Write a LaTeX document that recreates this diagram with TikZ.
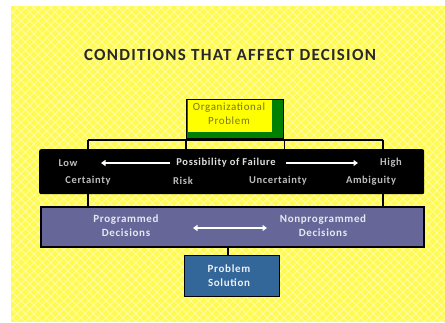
\documentclass[tikz,border=0pt]{standalone}
\usepackage{fontspec}
\setmainfont{Carlito}
\newfontfamily\spaced[LetterSpace=6]{Carlito}
\newfontfamily\titlefont[LetterSpace=7.5]{Carlito}
\usetikzlibrary{patterns.meta,arrows.meta}
\definecolor{bgyellow}{RGB}{255,250,80}
\definecolor{orgyellow}{RGB}{255,255,0}
\definecolor{orggreen}{RGB}{0,128,0}
\definecolor{decpurple}{RGB}{102,102,153}
\definecolor{solblue}{RGB}{51,102,153}
\definecolor{titlegray}{RGB}{40,40,40}
\definecolor{orgtext}{RGB}{120,120,30}
\definecolor{lowgray}{RGB}{190,190,190}
\tikzset{
  boxtext/.style={font=\spaced\fontsize{11}{14}\selectfont\bfseries, align=center},
  failtext/.style={font=\spaced\fontsize{10.5}{12}\selectfont\bfseries, text=lowgray},
  conn/.style={draw=black, line width=1.3pt},
  whitearrow/.style={draw=white, line width=2.2pt, -{Triangle[length=4.5pt,width=6pt]}},
  whitedouble/.style={draw=white, line width=2.2pt, {Triangle[length=4.5pt,width=6pt]}-{Triangle[length=4.5pt,width=6pt]}},
}
\begin{document}
\begin{tikzpicture}[x=1pt,y=-1pt]
\useasboundingbox (0,0) rectangle (445,322);
% background
\fill[bgyellow] (11,6) rectangle (445,322);
\fill[pattern={Lines[angle=45,distance=6pt,line width=1.1pt]}, pattern color=white, opacity=0.4] (11,6) rectangle (445,322);
\fill[pattern={Lines[angle=-45,distance=6pt,line width=1.1pt]}, pattern color=white, opacity=0.4] (11,6) rectangle (445,322);

% title
\node[font=\titlefont\fontsize{17}{19}\selectfont\bfseries, text=titlegray] (title) at (230,55) {CONDITIONS THAT AFFECT DECISION};

% organizational problem box
\node[draw=black, line width=1.3pt, fill=orggreen, minimum width=97pt, minimum height=39pt, inner sep=0pt, anchor=north west] (orgbox) at (186,99) {};
\node[fill=orgyellow, minimum width=84pt, minimum height=32pt, inner sep=0pt, anchor=north west] (org) at (187.5,100) {};
\node[boxtext, text=orgtext, font=\spaced\fontsize{11}{14}\selectfont] (orgtxt) at (229,114) {Organizational\\Problem};

% failure box
\node[fill=black, rounded corners=2pt, minimum width=385pt, minimum height=45pt, inner sep=0pt, anchor=north west] (fail) at (39,149) {};
\node[failtext] (low) at (68,163) {Low};
\node[failtext, text=white!88!black] (pof) at (226,163) {Possibility of Failure};
\node[failtext] (high) at (391,163) {High};
\node[failtext] (cert) at (88,181) {Certainty};
\node[failtext] (risk) at (183,181) {Risk};
\node[failtext] (unc) at (278,181) {Uncertainty};
\node[failtext] (amb) at (371,181) {Ambiguity};
\coordinate (la1) at (170,163);
\coordinate (la2) at (101,163);
\coordinate (ra1) at (286,163);
\coordinate (ra2) at (358,163);
\draw[whitearrow] (la1) -- (la2);
\draw[whitearrow] (ra1) -- (ra2);

% decisions box
\node[draw=black, line width=1.6pt, fill=decpurple, minimum width=383pt, minimum height=40pt, inner sep=0pt, anchor=north west] (dec) at (40,206) {};
\node[boxtext, text=white!85!decpurple] (prog) at (126,226) {Programmed\\Decisions};
\node[boxtext, text=white!85!decpurple] (nonprog) at (323,226) {Nonprogrammed\\Decisions};
\coordinate (da1) at (193,228);
\coordinate (da2) at (267,228);
\draw[whitedouble] (da1) -- (da2);

% solution box
\node[draw=black, line width=1.4pt, fill=solblue, minimum width=95pt, minimum height=41pt, inner sep=0pt, anchor=north west] (sol) at (184,255) {};
\node[boxtext, text=white!90!solblue] (soltxt) at (229,276) {Problem\\Solution};

% connectors
\coordinate (barL) at (88,140);
\coordinate (barR) at (383,140);
\coordinate (mid) at (228,0);
\draw[conn] (barL) -- (barR);
\draw[conn] (barL) -- (barL |- fail.north);
\draw[conn] (barR) -- (barR |- fail.north);
\draw[conn] (orgbox.south west) -- (orgbox.south west |- fail.north);
\draw[conn] (orgbox.south east) -- (orgbox.south east |- fail.north);
\draw[conn] (barL |- fail.south) -- (barL |- dec.north);
\draw[conn] (barR |- fail.south) -- (barR |- dec.north);
\draw[conn] (mid |- dec.south) -- (mid |- sol.north);
\end{tikzpicture}
\end{document}
